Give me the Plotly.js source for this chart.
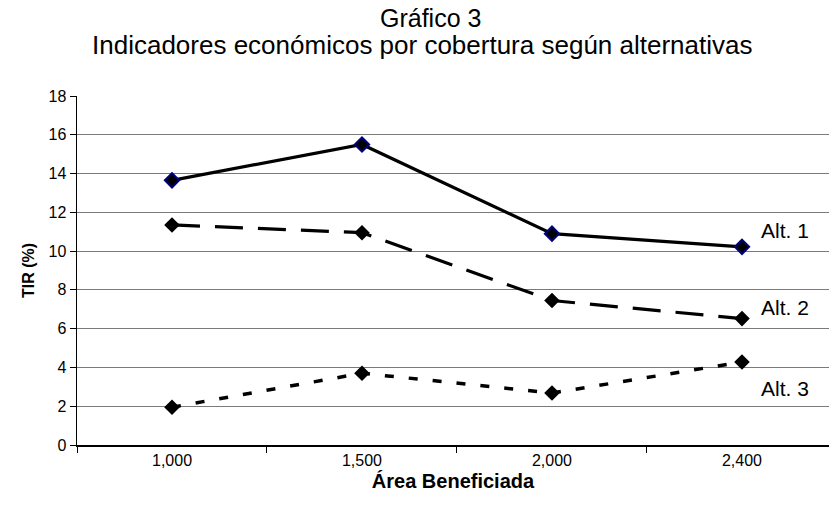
<!DOCTYPE html>
<html>
<head>
<meta charset="utf-8">
<script src="https://cdn.plot.ly/plotly-3.0.1.min.js"></script>
<style>html,body{margin:0;padding:0;background:#fff;}#chart{width:829px;height:510px;}</style>
</head>
<body>
<div id="chart"></div>
<script>
var categories = ["1,000", "1,500", "2,000", "2,400"];
var alt1 = [13.65, 15.5, 10.9, 10.22];
var alt2 = [11.35, 10.95, 7.45, 6.52];
var alt3 = [1.95, 3.7, 2.68, 4.28];
var seriesNames = ["Alt. 1", "Alt. 2", "Alt. 3"];
var labelY = [11.05, 7.07, 2.9];
var titleLines = ["Gráfico 3", "Indicadores económicos por cobertura según alternativas"];

var font = "Arial, 'Liberation Sans', sans-serif";

var traces = [
  {x: categories, y: alt1, name: seriesNames[0], type: "scatter", mode: "lines+markers",
   line: {color: "#000000", width: 3.2},
   marker: {symbol: "diamond", size: 11, color: "#000000", line: {color: "#000080", width: 2}}},
  {x: categories, y: alt2, name: seriesNames[1], type: "scatter", mode: "lines+markers",
   line: {color: "#000000", width: 3.2, dash: "28px,15px"},
   marker: {symbol: "diamond", size: 12, color: "#000000"}},
  {x: categories, y: alt3, name: seriesNames[2], type: "scatter", mode: "lines+markers",
   line: {color: "#000000", width: 3.5, dash: "9px,15px"},
   marker: {symbol: "diamond", size: 12, color: "#000000"}}
];

var annotations = seriesNames.map(function (n, i) {
  return {x: 3.09, y: labelY[i], xref: "x", yref: "y", text: n, showarrow: false,
          xanchor: "left", yanchor: "middle", font: {family: font, size: 21, color: "#000"}};
});
annotations.push({text: titleLines[0], xref: "paper", yref: "paper", x: -0.028, y: 1.223,
  xanchor: "center", yanchor: "middle", showarrow: false,
  font: {family: font, size: 25, color: "#000"}});
annotations[annotations.length - 1].x = (430 - 77) / 752;
annotations.push({text: titleLines[1], xref: "paper", yref: "paper", x: (422 - 77) / 752, y: 1.146,
  xanchor: "center", yanchor: "middle", showarrow: false,
  font: {family: font, size: 26, color: "#000"}});

var layout = {
  width: 829, height: 510,
  margin: {l: 77, r: 0, t: 96, b: 65},
  paper_bgcolor: "#ffffff", plot_bgcolor: "#ffffff",
  showlegend: false,
  font: {family: font, color: "#000"},
  xaxis: {type: "category", range: [-0.5, 3.458], tickson: "boundaries",
          ticks: "outside", ticklen: 6, tickcolor: "#000", tickwidth: 1,
          showline: true, linecolor: "#000", linewidth: 1.5, showgrid: false,
          tickfont: {family: font, size: 16, color: "#000"},
          title: {text: "<b>Área Beneficiada</b>", font: {family: font, size: 20, color: "#000"}, standoff: 6},
          fixedrange: true},
  yaxis: {range: [0, 18], dtick: 2, tick0: 0, ticks: "outside", ticklen: 6,
          tickcolor: "#000", tickwidth: 1, showline: true, linecolor: "#000", linewidth: 1.5,
          showgrid: true, gridcolor: "#7a7a7a", gridwidth: 1, zeroline: false,
          tickfont: {family: font, size: 16, color: "#000"},
          title: {text: "<b>TIR (%)</b>", font: {family: font, size: 16, color: "#000"}, standoff: 10},
          fixedrange: true},
  annotations: annotations
};

Plotly.newPlot("chart", traces, layout, {displayModeBar: false, staticPlot: true});
</script>
</body>
</html>
